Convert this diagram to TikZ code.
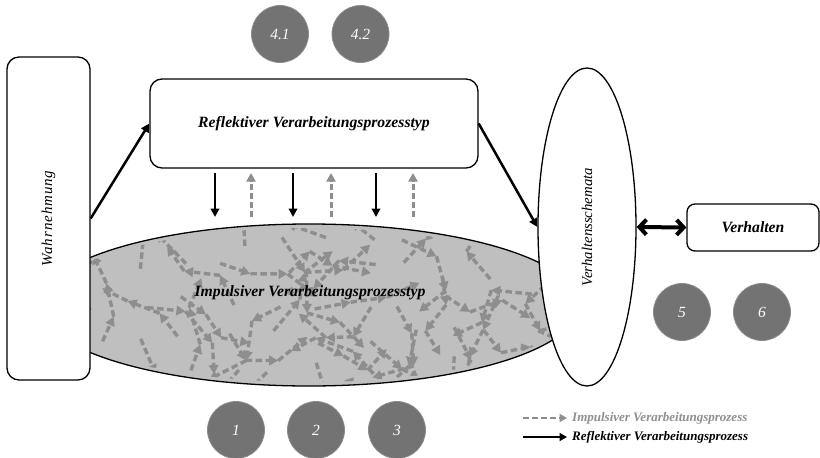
\documentclass[tikz,border=0pt]{standalone}
\usepackage{fontspec}
\setmainfont{Liberation Serif}
\usetikzlibrary{shapes.geometric,arrows.meta}

\definecolor{circgray}{HTML}{737373}
\definecolor{circedge}{HTML}{8C8C8C}
\definecolor{arrgray}{HTML}{8E8E8E}
\definecolor{impfill}{HTML}{BFBFBF}

\tikzset{
  procbox/.style={draw, line width=1.3pt, rounded corners=12pt, fill=white, inner sep=0pt},
  boldlbl/.style={font=\fontsize{15.7}{18}\selectfont\bfseries\itshape},
  sidelbl/.style={font=\fontsize{15}{18}\selectfont\itshape, rotate=90},
  numcirc/.style={circle, fill=circgray, draw=circedge, line width=0.8pt,
    minimum size=57pt, inner sep=0pt, text=white,
    font=\fontsize{15.5}{18}\selectfont\itshape},
  solidarr/.style={line width=2.5pt, -{Triangle[length=8.5pt,width=8.5pt]}},
  dasharr/.style={draw=arrgray, line width=3pt, dash pattern=on 6pt off 3pt,
    -{Triangle[length=8.5pt,width=9pt]}},
  walkarr/.style={draw=arrgray, line width=3.4pt, dash pattern=on 6.5pt off 3.5pt,
    -{Triangle[length=9pt,width=9.5pt]}},
  legendlbl/.style={anchor=west, inner sep=0pt,
    font=\fontsize{13}{15}\selectfont\bfseries\itshape},
}

\begin{document}
\begin{tikzpicture}[x=1pt,y=-1pt]
\useasboundingbox (0,0) rectangle (820,458);

% impulsive processing: grey ellipse filled with wandering dashed arrows
\fill[impfill] (309,305) ellipse [x radius=270, y radius=81];
\begin{scope}
  \clip (309,305) ellipse [x radius=266, y radius=77];
  \pgfmathsetseed{31}
  \foreach \gx in {100,144,...,560}{
    \foreach \gy in {238,270,...,372}{
      \pgfmathsetmacro\px{\gx+14*rand}
      \pgfmathsetmacro\py{\gy+10*rand}
      \pgfmathsetmacro\e{((\px-309)/262)^2+((\py-305)/74)^2}
      \ifdim\e pt<1pt
        \pgfmathsetmacro\a{360*rnd}
        \xdef\curx{\px}\xdef\cury{\py}\xdef\cura{\a}
        \foreach \s in {1,2,3}{
          \pgfmathsetmacro\ang{\cura+80*rand}
          \pgfmathsetmacro\len{27+16*rnd}
          \pgfmathsetmacro\nx{\curx+\len*cos(\ang)}
          \pgfmathsetmacro\ny{\cury+\len*sin(\ang)}
          \draw[walkarr] (\curx,\cury) -- (\nx,\ny);
          \xdef\curx{\nx}\xdef\cury{\ny}\xdef\cura{\ang}
        }
      \fi
    }
  }
\end{scope}
\node[ellipse, draw, line width=1.3pt, minimum width=540pt, minimum height=162pt,
      inner sep=0pt] (imp) at (309,305) {};
\node[boldlbl] (imptxt) at (310,293) {Impulsiver Verarbeitungsprozesstyp};

% perception
\node[procbox, minimum width=83pt, minimum height=323pt] (wahr) at (48.5,218.5) {};
\node[sidelbl, font=\fontsize{15}{18}\selectfont\itshape\addfontfeature{LetterSpace=6}]
  (wahrtxt) at (wahr.center) {Wahrnehmung};

% reflective processing
\node[procbox, minimum width=328pt, minimum height=89pt] (refl) at (314,123.5) {};
\node[boldlbl] (refltxt) at (refl.center) {Reflektiver Verarbeitungsprozesstyp};

% behaviour schemata
\node[ellipse, draw, fill=white, line width=1.3pt, minimum width=98pt,
      minimum height=318pt, inner sep=0pt] (verh) at (587,227) {};
\node[sidelbl, font=\fontsize{14.8}{18}\selectfont\itshape]
  (verhtxt) at (verh.center) {Verhaltensschemata};

% behaviour
\node[procbox, rounded corners=8pt, minimum width=132pt, minimum height=47pt]
  (beh) at (753,227.5) {};
\node[boldlbl] (behtxt) at (beh.center) {Verhalten};

% connectors
\draw[solidarr] (wahr.east) -- (refl.west);
\draw[solidarr] (refl.east) -- (verh.west);
\draw[line width=4pt, {Straight Barb[length=7pt,width=15pt]}-{Straight Barb[length=7pt,width=15pt]}]
  (verh.east) -- (beh.west);

% exchange between the two processing types
\foreach \x in {215,293,376}
  \draw[solidarr] (\x,173) -- (\x,217);
\foreach \x in {251,331,413}
  \draw[dasharr] (\x,217) -- (\x,173);

% numbered markers
\node[numcirc] (n41) at (280,34) {4.1};
\node[numcirc] (n42) at (360.5,34) {4.2};
\node[numcirc] (n1) at (236,430) {1};
\node[numcirc] (n2) at (316,430) {2};
\node[numcirc] (n3) at (397,430) {3};
\node[numcirc] (n5) at (682,312) {5};
\node[numcirc] (n6) at (762,312) {6};

% legend
\coordinate (lg1a) at (523,418);
\coordinate (lg1b) at (567,418);
\coordinate (lg2a) at (523,437);
\coordinate (lg2b) at (567,437);
\draw[dasharr, line width=2.8pt, -{Triangle[length=7.5pt,width=8pt]}] (lg1a) -- (lg1b);
\node[legendlbl, text=arrgray] (lg1) at (572,418) {Impulsiver Verarbeitungsprozess};
\draw[solidarr, -{Triangle[length=7.5pt,width=8pt]}] (lg2a) -- (lg2b);
\node[legendlbl] (lg2) at (572,437) {Reflektiver Verarbeitungsprozess};
\end{tikzpicture}
\end{document}
